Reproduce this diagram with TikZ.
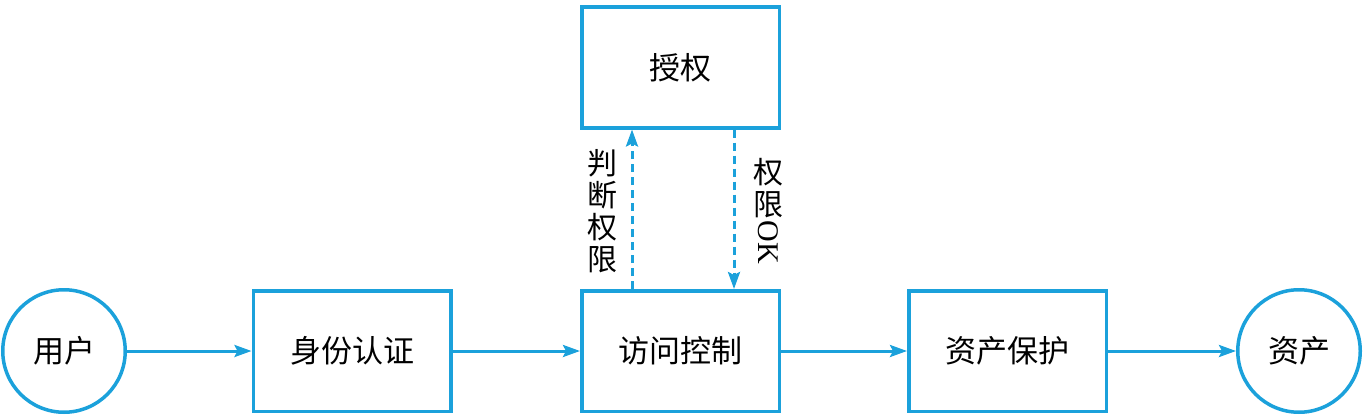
\documentclass[tikz,border=0pt]{standalone}
\usepackage{fontspec}
\setmainfont{Liberation Serif}
\newfontfamily\cjk{Noto Sans CJK SC}
\usetikzlibrary{arrows.meta}
\definecolor{lineblue}{RGB}{27,161,219}
\begin{document}
\begin{tikzpicture}[x=1pt,y=-1pt,
  lbl/.style={font=\cjk\fontsize{31}{31}\selectfont, text=black},
  box/.style={lbl, draw=lineblue, line width=3.5pt, minimum width=197.5pt, minimum height=120.5pt, inner sep=0pt},
  circ/.style={lbl, draw=lineblue, line width=3.5pt, circle, minimum size=122.5pt, inner sep=0pt},
  arr/.style={draw=lineblue, line width=3pt, -{Stealth[length=17pt,width=12pt,inset=3pt]}},
  darr/.style={arr, dash pattern=on 8pt off 5pt},
  vlbl/.style={font=\cjk\fontsize{30}{30}\selectfont, text=black, inner sep=0pt, align=center}]
\path[use as bounding box] (0,0) rectangle (1363,420);
\node[circ] (user) at (64,351) {用户};
\node[box] (auth) at (352,351) {身份认证};
\node[box] (acc) at (680.5,351) {访问控制};
\node[box] (prot) at (1007.5,351) {资产保护};
\node[circ] (asset) at (1299,351) {资产};
\node[box] (grant) at (680.5,67.5) {授权};
\draw[arr] (user) -- (auth.west |- user);
\draw[arr] (auth) -- (acc);
\draw[arr] (acc) -- (prot);
\draw[arr] (prot.east |- asset) -- (asset);
\coordinate (up) at (632,0);
\coordinate (dn) at (734,0);
\draw[darr] (acc.north -| up) -- (grant.south -| up);
\draw[darr] (grant.south -| dn) -- (acc.north -| dn);
\node[vlbl] (q) at (602,211) {判\\[2pt]断\\[2pt]权\\[2pt]限};
\node[vlbl] (ok) at (768,211) {权\\[2pt]限\\[2pt]\rotatebox[origin=c]{-90}{\fontspec{Liberation Serif}OK}};
\end{tikzpicture}
\end{document}
